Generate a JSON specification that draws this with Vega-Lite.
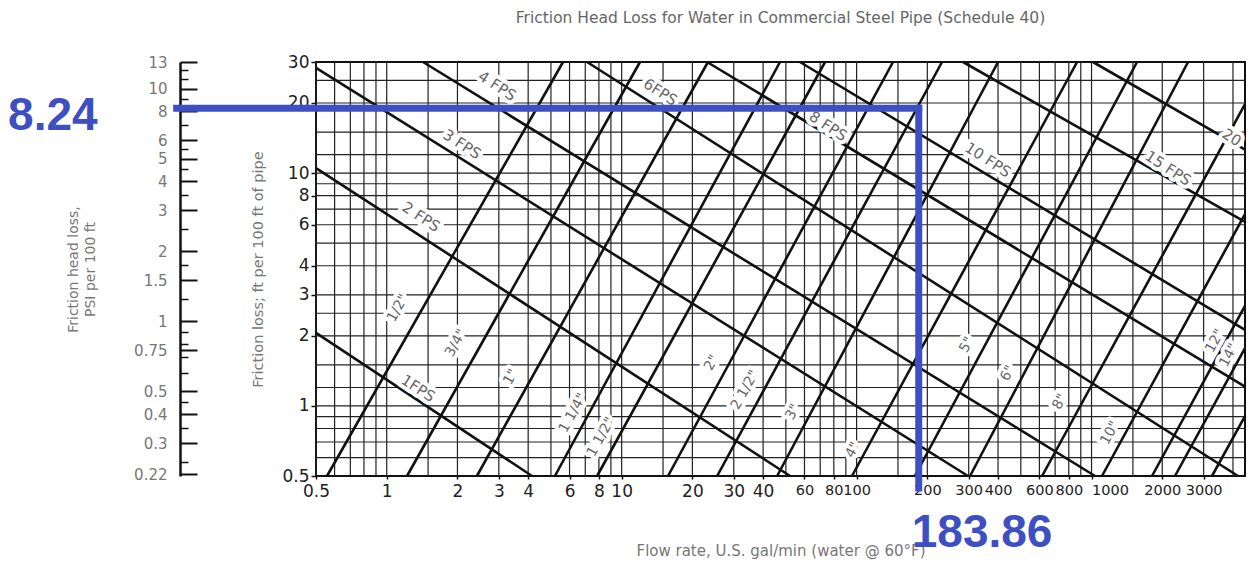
{
  "$schema": "https://vega.github.io/schema/vega-lite/v6.json",
  "width": 929,
  "height": 414,
  "autosize": {"type": "none"},
  "padding": {"left": 316, "top": 62, "right": 4, "bottom": 89},
  "background": "white",
  "config": {"view": {"stroke": "#111", "strokeWidth": 2}, "font": "DejaVu Sans"},
  "title": {"text": "Friction Head Loss for Water in Commercial Steel Pipe (Schedule 40)", "anchor": "middle", "frame": "group", "offset": 27, "font": "DejaVu Sans", "fontSize": 15.5, "fontWeight": "normal", "color": "#666"},
  "datasets": {
    "vgrid": [{"q":0.5},{"q":0.6},{"q":0.7},{"q":0.8},{"q":0.9},{"q":1},{"q":1.5},{"q":2},{"q":3},{"q":4},{"q":5},{"q":6},{"q":7},{"q":8},{"q":9},{"q":10},{"q":15},{"q":20},{"q":30},{"q":40},{"q":50},{"q":60},{"q":70},{"q":80},{"q":90},{"q":100},{"q":150},{"q":200},{"q":300},{"q":400},{"q":500},{"q":600},{"q":700},{"q":800},{"q":900},{"q":1000},{"q":1500},{"q":2000},{"q":3000},{"q":4000}],
    "hgrid": [{"h":0.6},{"h":0.7},{"h":0.8},{"h":0.9},{"h":1},{"h":1.2},{"h":1.5},{"h":2},{"h":2.5},{"h":3},{"h":4},{"h":5},{"h":6},{"h":7},{"h":8},{"h":9},{"h":10},{"h":12},{"h":15},{"h":20},{"h":25}],
    "lines": [
      {"id":"p1/2","q":0.557,"h":0.5},{"id":"p1/2","q":5.63,"h":30},
      {"id":"p3/4","q":1.22,"h":0.5},{"id":"p3/4","q":11.97,"h":30},
      {"id":"p1","q":2.42,"h":0.5},{"id":"p1","q":23.3,"h":30},
      {"id":"p1 1/4","q":5.2,"h":0.5},{"id":"p1 1/4","q":47.2,"h":30},
      {"id":"p1 1/2","q":7.86,"h":0.5},{"id":"p1 1/2","q":73.4,"h":30},
      {"id":"p2","q":15.75,"h":0.5},{"id":"p2","q":142.9,"h":30},
      {"id":"p2 1/2","q":25.5,"h":0.5},{"id":"p2 1/2","q":231,"h":30},
      {"id":"p3","q":45.9,"h":0.5},{"id":"p3","q":400,"h":30},
      {"id":"p4","q":95.6,"h":0.5},{"id":"p4","q":868,"h":30},
      {"id":"p5","q":177,"h":0.5},{"id":"p5","q":1562,"h":30},
      {"id":"p6","q":304,"h":0.5},{"id":"p6","q":2575,"h":30},
      {"id":"p8","q":616,"h":0.5},{"id":"p8","q":4500,"h":19.8},
      {"id":"p10","q":1108,"h":0.5},{"id":"p10","q":4500,"h":6.67},
      {"id":"p12","q":1809,"h":0.5},{"id":"p12","q":4500,"h":2.69},
      {"id":"p14","q":2266,"h":0.5},{"id":"p14","q":4500,"h":1.77},
      {"id":"p16","q":3256,"h":0.5},{"id":"p16","q":4500,"h":0.905},
      {"id":"v1","q":0.5,"h":2.06},{"id":"v1","q":4.155,"h":0.5},
      {"id":"v2","q":0.5,"h":10.5},{"id":"v2","q":52.1,"h":0.5},
      {"id":"v3","q":0.5,"h":28.3},{"id":"v3","q":298,"h":0.5},
      {"id":"v4","q":1.427,"h":30},{"id":"v4","q":1035,"h":0.5},
      {"id":"v6","q":7.12,"h":30},{"id":"v6","q":4203,"h":0.5},
      {"id":"v8","q":23.1,"h":30},{"id":"v8","q":4500,"h":1.21},
      {"id":"v10","q":57.4,"h":30},{"id":"v10","q":4500,"h":2.12},
      {"id":"v15","q":283.8,"h":30},{"id":"v15","q":4500,"h":6.17},
      {"id":"v20","q":1014,"h":30},{"id":"v20","q":4500,"h":12.6}
    ],
    "labels": [
      {"label":"1FPS","family":"fps","q":1.36,"h":1.19},
      {"label":"2 FPS","family":"fps","q":1.4,"h":6.48},
      {"label":"3 FPS","family":"fps","q":2.09,"h":13.3},
      {"label":"4 FPS","family":"fps","q":2.95,"h":23.7},
      {"label":"6FPS","family":"fps","q":14.6,"h":22.3},
      {"label":"8 FPS","family":"fps","q":75.6,"h":15.9},
      {"label":"10 FPS","family":"fps","q":362,"h":11.4},
      {"label":"15 FPS","family":"fps","q":2117,"h":10.5},
      {"label":"20","family":"fps","q":3950,"h":14.2},
      {"label":"1/2\"","family":"pipe","q":1.117,"h":2.63},
      {"label":"3/4\"","family":"pipe","q":1.972,"h":1.86},
      {"label":"1\"","family":"pipe","q":3.38,"h":1.33},
      {"label":"1 1/4\"","family":"pipe","q":6.21,"h":0.932},
      {"label":"1 1/2\"","family":"pipe","q":8.17,"h":0.735},
      {"label":"2\"","family":"pipe","q":24.2,"h":1.53},
      {"label":"2 1/2\"","family":"pipe","q":33.5,"h":1.17},
      {"label":"3\"","family":"pipe","q":53.6,"h":0.94},
      {"label":"4\"","family":"pipe","q":96.5,"h":0.646},
      {"label":"5\"","family":"pipe","q":295,"h":1.83},
      {"label":"6\"","family":"pipe","q":441,"h":1.38},
      {"label":"8\"","family":"pipe","q":734,"h":1.04},
      {"label":"10\"","family":"pipe","q":1199,"h":0.765},
      {"label":"12\"","family":"pipe","q":3354,"h":1.9},
      {"label":"14\"","family":"pipe","q":3850,"h":1.65}
    ],
    "guide": [
      {"q":0.1276,"q2":183.86,"h":19.0,"h2":19.0},
      {"q":183.86,"q2":183.86,"h":19.0,"h2":0.444}
    ],
    "guideText": [
      {"label":"8.24","q":0.1276,"h":19.0},
      {"label":"183.86","q":183.86,"h":0.444}
    ],
    "psi": [{"p":13},{"p":10},{"p":8},{"p":6},{"p":5},{"p":4},{"p":3},{"p":2},{"p":1.5},{"p":1},{"p":0.75},{"p":0.5},{"p":0.4},{"p":0.3},{"p":0.22}]
  },
  "layer": [
    {
      "layer": [
        {
          "data": {"name": "vgrid"},
          "mark": {"type": "rule", "color": "#222", "strokeWidth": 1.2},
          "encoding": {
            "x": {"field": "q", "type": "quantitative", "scale": {"type": "log", "domain": [0.5, 4500], "nice": false},
              "axis": {
                "values": [0.5,1,2,3,4,6,8,10,20,30,40,60,80,100,200,300,400,600,800,1000,2000,3000],
                "format": "~g", "domain": false, "grid": false,
                "tickSize": 3, "tickColor": "#111", "tickWidth": 1.5, "labelPadding": 4,
                "labelFont": "DejaVu Sans",
                "labelFontSize": {"condition": {"test": "datum.value >= 60", "value": 14.5}, "value": 17},
                "labelAlign": {"condition": {"test": "datum.value === 1000", "value": "left"}, "value": "center"},
                "labelColor": "#222",
                "labelOverlap": false, "labelFlush": false, "labelBound": false,
                "title": "Flow rate, U.S. gal/min (water @ 60°F)", "titleFont": "DejaVu Sans", "titleFontSize": 15, "titleFontWeight": "normal", "titleColor": "#777", "titlePadding": 44
              }
            }
          }
        },
        {
          "data": {"name": "hgrid"},
          "mark": {"type": "rule", "color": "#222", "strokeWidth": 1.2},
          "encoding": {
            "y": {"field": "h", "type": "quantitative", "scale": {"type": "log", "domain": [0.5, 30], "nice": false},
              "axis": {
                "values": [0.5,1,2,3,4,6,8,10,20,30], "format": "~g", "domain": false, "grid": false,
                "tickSize": 5, "tickColor": "#111", "tickWidth": 1.5, "labelPadding": 2,
                "labelFont": "DejaVu Sans", "labelFontSize": 17, "labelColor": "#222",
                "labelOverlap": false, "labelFlush": false, "labelBound": false,
                "title": "Friction loss; ft per 100 ft of pipe", "titleFont": "DejaVu Sans", "titleFontSize": 14.5, "titleFontWeight": "normal", "titleColor": "#777", "titlePadding": 16
              }
            }
          }
        },
        {
          "data": {"name": "lines"},
          "mark": {"type": "line", "color": "#111", "strokeWidth": 2.6},
          "encoding": {
            "x": {"field": "q", "type": "quantitative", "scale": {"type": "log", "domain": [0.5, 4500], "nice": false}},
            "y": {"field": "h", "type": "quantitative", "scale": {"type": "log", "domain": [0.5, 30], "nice": false}},
            "detail": {"field": "id"}
          }
        },
        {
          "data": {"name": "labels"},
          "mark": {"type": "text", "font": "DejaVu Sans", "color": "white", "stroke": "white", "strokeWidth": 8, "strokeJoin": "round", "align": "center", "baseline": "middle"},
          "encoding": {
            "x": {"field": "q", "type": "quantitative", "scale": {"type": "log", "domain": [0.5, 4500], "nice": false}},
            "y": {"field": "h", "type": "quantitative", "scale": {"type": "log", "domain": [0.5, 30], "nice": false}},
            "text": {"field": "label"},
            "angle": {"condition": {"test": "datum.family === 'pipe'", "value": -61}, "value": 33},
            "size": {"condition": {"test": "datum.family === 'pipe'", "value": 14}, "value": 15}
          }
        },
        {
          "data": {"name": "labels"},
          "mark": {"type": "text", "font": "DejaVu Sans", "color": "#666", "align": "center", "baseline": "middle"},
          "encoding": {
            "x": {"field": "q", "type": "quantitative", "scale": {"type": "log", "domain": [0.5, 4500], "nice": false}},
            "y": {"field": "h", "type": "quantitative", "scale": {"type": "log", "domain": [0.5, 30], "nice": false}},
            "text": {"field": "label"},
            "angle": {"condition": {"test": "datum.family === 'pipe'", "value": -61}, "value": 33},
            "size": {"condition": {"test": "datum.family === 'pipe'", "value": 14}, "value": 15}
          }
        },
        {
          "data": {"name": "guide"},
          "mark": {"type": "rule", "color": "#3d4fc2", "strokeWidth": 7, "strokeCap": "square"},
          "encoding": {
            "x": {"field": "q", "type": "quantitative", "scale": {"type": "log", "domain": [0.5, 4500], "nice": false}},
            "x2": {"field": "q2"},
            "y": {"field": "h", "type": "quantitative", "scale": {"type": "log", "domain": [0.5, 30], "nice": false}},
            "y2": {"field": "h2"}
          }
        },
        {
          "data": {"name": "guideText"},
          "transform": [{"filter": "datum.label === '8.24'"}],
          "mark": {"type": "text", "font": "Liberation Sans", "fontWeight": "bold", "fontSize": 46, "color": "#3d4fc2", "align": "right", "baseline": "alphabetic", "dx": -79, "dy": 22},
          "encoding": {
            "x": {"field": "q", "type": "quantitative", "scale": {"type": "log", "domain": [0.5, 4500], "nice": false}},
            "y": {"field": "h", "type": "quantitative", "scale": {"type": "log", "domain": [0.5, 30], "nice": false}},
            "text": {"field": "label"}
          }
        },
        {
          "data": {"name": "guideText"},
          "transform": [{"filter": "datum.label === '183.86'"}],
          "mark": {"type": "text", "font": "Liberation Sans", "fontWeight": "bold", "fontSize": 46, "color": "#3d4fc2", "align": "left", "baseline": "alphabetic", "dx": -7, "dy": 59},
          "encoding": {
            "x": {"field": "q", "type": "quantitative", "scale": {"type": "log", "domain": [0.5, 4500], "nice": false}},
            "y": {"field": "h", "type": "quantitative", "scale": {"type": "log", "domain": [0.5, 30], "nice": false}},
            "text": {"field": "label"}
          }
        }
      ]
    },
    {
      "data": {"name": "psi"},
      "mark": {"type": "point", "opacity": 0},
      "encoding": {
        "y": {"field": "p", "type": "quantitative", "scale": {"type": "log", "domain": [0.21667, 13], "nice": false},
          "axis": {
            "orient": "left", "offset": 136,
            "values": [13,10,8,6,5,4,3,2,1.5,1,0.75,0.5,0.4,0.3,0.22], "format": "~g",
            "domain": true, "domainColor": "#111", "domainWidth": 2.5,
            "ticks": true, "tickColor": "#111", "tickWidth": 2, "tickSize": -17,
            "labelPadding": 30, "labelFont": "DejaVu Sans", "labelFontSize": 15, "labelColor": "#777",
            "labelOverlap": false, "labelFlush": false, "labelBound": false, "grid": false,
            "title": ["Friction head loss,", "PSI per 100 ft"], "titleFont": "DejaVu Sans", "titleFontSize": 14, "titleFontWeight": "normal", "titleColor": "#777", "titlePadding": 36, "titleLineHeight": 17
          }
        }
      }
    },
    {
      "data": {"name": "psi"},
      "mark": {"type": "point", "opacity": 0},
      "encoding": {
        "y": {"field": "p", "type": "quantitative", "scale": {"type": "log", "domain": [0.21667, 13], "nice": false},
          "axis": {
            "orient": "left", "offset": 136,
            "values": [12,11,9,7,5.5,4.5,3.5,2.5,1.75,1.25,0.9,0.8,0.7,0.6,0.45,0.35,0.25],
            "domain": false, "labels": false, "grid": false,
            "ticks": true, "tickColor": "#111", "tickWidth": 1.5, "tickSize": -8,
            "title": null
          }
        }
      }
    }
  ],
  "resolve": {"scale": {"y": "independent"}}
}
